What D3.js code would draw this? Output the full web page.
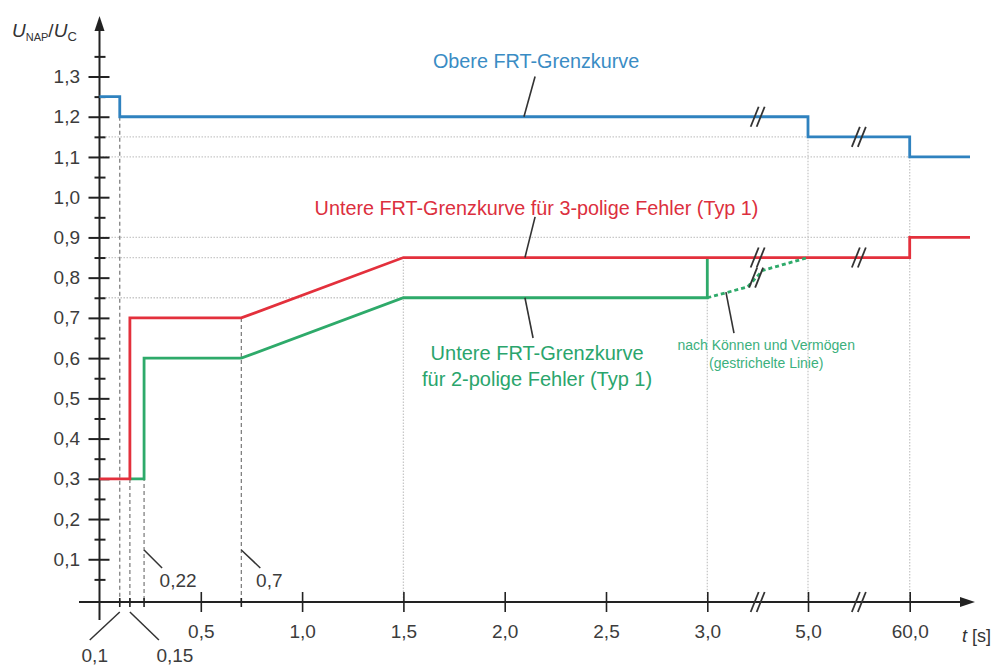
<!DOCTYPE html>
<html>
<head>
<meta charset="utf-8">
<script src="https://cdn.jsdelivr.net/npm/d3@7"></script>
<style>
body { margin: 0; background: #fff; }
svg { font-family: "Liberation Sans", Arial, sans-serif; }
</style>
</head>
<body>
<svg id="chart" width="995" height="666"></svg>
<script>
// curves (time in s, voltage U_NAP/U_C)
const upperT  = [0, 0.1, 0.1, 5, 5, 60, 60, 90];
const upperU  = [1.25, 1.25, 1.2, 1.2, 1.15, 1.15, 1.1, 1.1];
const lower3T = [0, 0.15, 0.15, 0.7, 1.5, 60, 60, 90];
const lower3U = [0.3, 0.3, 0.7, 0.7, 0.85, 0.85, 0.9, 0.9];
const lower2T = [0.15, 0.22, 0.22, 0.7, 1.5, 3, 3];
const lower2U = [0.3, 0.3, 0.6, 0.6, 0.75, 0.75, 0.85];
const optT    = [3, 3.8, 4.1, 5];
const optU    = [0.75, 0.777, 0.818, 0.85];

const yMajor = [0.1, 0.2, 0.3, 0.4, 0.5, 0.6, 0.7, 0.8, 0.9, 1.0, 1.1, 1.2, 1.3];
const yMinor = [0.05, 0.15, 0.25, 0.35, 0.45, 0.55, 0.65, 0.75, 0.85, 0.95, 1.05, 1.15, 1.25, 1.35];
const xMajor = [0.5, 1, 1.5, 2, 2.5, 3, 5, 60];
const xMarked = [0.1, 0.15, 0.22, 0.7];
const xBreaks = [4, 32.5];

const fmt = d3.formatLocale({decimal: ",", thousands: ".", grouping: [3], currency: ["", "€"]});
const f1 = fmt.format(".1f");

const svg = d3.select("#chart");
const x = d3.scaleLinear().domain([0, 3, 5, 60, 90]).range([99.5, 707.3, 808, 909.7, 970]);
const y = d3.scaleLinear().domain([0, 1.3]).range([599.5, 76.5]);
const axisY = 602;

const blue = "#2f82bf", red = "#e3303c", green = "#2eaa6a";
const line = d3.line().x(d => x(d[0])).y(d => y(d[1]));
const zip = (a, b) => a.map((t, i) => [t, b[i]]);

// light dotted helper lines
const gridH = [[1.15, 5], [1.1, 60], [0.9, 60], [0.85, 1.5], [0.75, 1.5]];
const gridV = [[1.5, 0.85], [3, 0.75], [5, 1.15], [60, 1.1]];
const grid = svg.append("g").attr("stroke", "#c8c8c8").attr("stroke-width", 1.3)
    .attr("stroke-dasharray", "1.5,1.5").attr("fill", "none");
grid.selectAll("line.h").data(gridH).enter().append("line")
    .attr("x1", x(0)).attr("x2", d => x(d[1]))
    .attr("y1", d => y(d[0])).attr("y2", d => y(d[0]));
grid.selectAll("line.v").data(gridV).enter().append("line")
    .attr("x1", d => x(d[0])).attr("x2", d => x(d[0]))
    .attr("y1", d => y(d[1])).attr("y2", axisY);

// dark dashed drop lines
const drops = [[0.1, 1.2], [0.15, 0.7], [0.22, 0.6], [0.7, 0.7]];
svg.append("g").attr("stroke", "#777").attr("stroke-width", 1.2).attr("stroke-dasharray", "4,3")
  .selectAll("line").data(drops).enter().append("line")
    .attr("x1", d => x(d[0])).attr("x2", d => x(d[0]))
    .attr("y1", d => y(d[1])).attr("y2", axisY);

// axes
const ax = svg.append("g").attr("stroke", "#222").attr("stroke-width", 2).attr("fill", "none");
ax.append("line").attr("x1", 79).attr("x2", 962).attr("y1", axisY).attr("y2", axisY);
ax.append("line").attr("x1", x(0)).attr("x2", x(0)).attr("y1", 620).attr("y2", 28);
svg.append("path").attr("fill", "#222")
    .attr("d", `M975,${axisY} L960,${axisY - 5} L960,${axisY + 5} Z`);
svg.append("path").attr("fill", "#222")
    .attr("d", `M${x(0)},16 L${x(0) - 5},31 L${x(0) + 5},31 Z`);

const yAxis = svg.append("g").attr("transform", `translate(${x(0)},0)`)
    .call(d3.axisLeft(y).tickValues(yMajor).tickSize(11).tickPadding(8.5).tickFormat(f1));
yAxis.select(".domain").remove();
yAxis.selectAll(".tick line").attr("x1", 10).attr("stroke", "#222").attr("stroke-width", 2);
yAxis.selectAll("text").attr("font-size", 19).attr("fill", "#3c3c3c").attr("font-family", null);

const yMin = svg.append("g").attr("transform", `translate(${x(0)},0)`)
    .call(d3.axisLeft(y).tickValues(yMinor).tickSize(5).tickFormat(""));
yMin.select(".domain").remove();
yMin.selectAll(".tick line").attr("x1", 6).attr("stroke", "#222").attr("stroke-width", 2);

const xAxis = svg.append("g").attr("transform", `translate(0,${axisY})`)
    .call(d3.axisBottom(x).tickValues(xMajor).tickSize(10).tickPadding(12.5).tickFormat(f1));
xAxis.select(".domain").remove();
xAxis.selectAll(".tick line").attr("y1", -10).attr("stroke", "#222").attr("stroke-width", 1.6);
xAxis.selectAll("text").attr("font-size", 19).attr("fill", "#3c3c3c").attr("font-family", null);

svg.append("g").attr("stroke", "#222").attr("stroke-width", 1.6)
  .selectAll("line").data(xMarked).enter().append("line")
    .attr("x1", d => x(d)).attr("x2", d => x(d)).attr("y1", axisY - 4).attr("y2", axisY + 5);

// labels for marked times with leaders
const marks = [
  {t: 0.1,  lbl: "0,1",  below: true,  dx: -30, tx: -25},
  {t: 0.15, lbl: "0,15", below: true,  dx: 29,  tx: 45},
  {t: 0.22, lbl: "0,22", below: false, dx: 18,  tx: 34},
  {t: 0.7,  lbl: "0,7",  below: false, dx: 19,  tx: 28}
];
const mk = svg.append("g");
mk.selectAll("line").data(marks).enter().append("line")
    .attr("stroke", "#333").attr("stroke-width", 1.5)
    .attr("x1", d => x(d.t)).attr("x2", d => x(d.t) + d.dx)
    .attr("y1", d => d.below ? axisY + 10 : axisY - 52)
    .attr("y2", d => d.below ? axisY + 38 : axisY - 34);
mk.selectAll("text").data(marks).enter().append("text")
    .attr("x", d => x(d.t) + d.tx).attr("y", d => d.below ? 662 : 587)
    .attr("text-anchor", "middle").attr("font-size", 19).attr("fill", "#3c3c3c")
    .text(d => d.lbl);

// axis titles
const yt = svg.append("text").attr("x", 12).attr("y", 37).attr("font-size", 19).attr("fill", "#333");
yt.append("tspan").attr("font-style", "italic").text("U");
yt.append("tspan").attr("font-size", 11).attr("dy", 4).text("NAP");
yt.append("tspan").attr("dy", -4).text("/");
yt.append("tspan").attr("font-style", "italic").text("U");
yt.append("tspan").attr("font-size", 13).attr("dy", 4).text("C");

const xt = svg.append("text").attr("x", 962).attr("y", 642).attr("font-size", 18).attr("fill", "#333");
xt.append("tspan").attr("font-style", "italic").text("t");
xt.append("tspan").text(" [s]");

// curves
const curves = svg.append("g").attr("fill", "none").attr("stroke-width", 2.8);
curves.append("path").attr("d", line(zip(upperT, upperU))).attr("stroke", blue);
curves.append("path").attr("d", line(zip(lower2T, lower2U))).attr("stroke", green);
curves.append("path").attr("d", line(zip(lower3T, lower3U))).attr("stroke", red);
curves.append("path").attr("d", line(zip(optT, optU))).attr("stroke", green)
    .attr("stroke-dasharray", "4,3");

// break marks
const breakPts = [[xBreaks[0], null], [xBreaks[1], null], [xBreaks[0], 1.2], [xBreaks[1], 1.15],
                  [xBreaks[0], 0.85], [xBreaks[1], 0.85], [3.97, 0.8]];
const br = svg.append("g").attr("stroke", "#333").attr("stroke-width", 1.8);
breakPts.forEach(p => {
  const cx = x(p[0]), cy = p[1] === null ? axisY : y(p[1]);
  [-3, 3].forEach(o => {
    br.append("line").attr("x1", cx + o - 4).attr("y1", cy + 10)
      .attr("x2", cx + o + 4).attr("y2", cy - 10);
  });
});

// annotations
const notes = [
  {t: 2.155, u: 1.321, c: "#3a8cc4", size: 19.8, lines: ["Obere FRT-Grenzkurve"], lead: [[2.15, 1.3], [2.095, 1.2]]},
  {t: 2.157, u: 0.955, c: "#dc2f3e", size: 19.8, lines: ["Untere FRT-Grenzkurve für 3-polige Fehler (Typ 1)"], lead: [[2.15, 0.951], [2.10, 0.85]]},
  {t: 2.16,  u: 0.595, c: "#2aa56c", size: 20, lines: ["Untere FRT-Grenzkurve", "für 2-polige Fehler (Typ 1)"], lead: [[2.10, 0.75], [2.14, 0.65]]},
  {t: 4.17,  u: 0.62,  c: "#3bb07d", size: 14, lines: ["nach Können und Vermögen", "(gestrichelte Linie)"], lead: [[3.37, 0.764], [3.53, 0.662]]}
];
notes.forEach(n => {
  svg.append("path").attr("d", line(n.lead)).attr("stroke", "#333").attr("stroke-width", 1.6);
  const tx = svg.append("text").attr("x", x(n.t)).attr("y", y(n.u))
      .attr("text-anchor", "middle").attr("font-size", n.size).attr("fill", n.c);
  n.lines.forEach((s, i) => tx.append("tspan").attr("x", x(n.t)).attr("dy", i ? n.size * 1.3 : 0).text(s));
});
</script>
</body>
</html>
